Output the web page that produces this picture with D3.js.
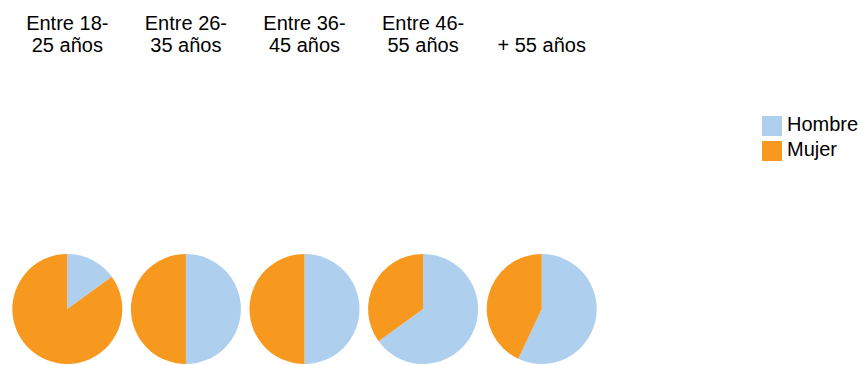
<!DOCTYPE html>
<html>
<head>
<meta charset="utf-8">
<script src="https://cdn.jsdelivr.net/npm/d3@7/dist/d3.min.js"></script>
<style>
  html, body { margin: 0; padding: 0; background: #fff; }
  svg { display: block; font-family: "Liberation Sans", Arial, Helvetica, sans-serif; }
</style>
</head>
<body>
<svg id="chart" width="861" height="365"></svg>
<script>
const categories = ["Entre 18-25 años", "Entre 26-35 años", "Entre 36-45 años", "Entre 46-55 años", "+ 55 años"];
const categoryLines = [["Entre 18-", "25 años"], ["Entre 26-", "35 años"], ["Entre 36-", "45 años"], ["Entre 46-", "55 años"], ["+ 55 años"]];
const seriesNames = ["Hombre", "Mujer"];
const hombre = [15, 50, 50, 65, 57];
const mujer = [85, 50, 50, 35, 43];
const colors = ["#aed0ee", "#f7991f"];

const svg = d3.select("#chart");
const x = d3.scaleBand().domain(categories).range([8, 601]).padding(0);
const color = d3.scaleOrdinal().domain(seriesNames).range(colors);
const radius = 55;
const cy = 309;

const pie = d3.pie().sort(null).value(d => d.value);
const arc = d3.arc().innerRadius(0).outerRadius(radius);

categories.forEach((cat, i) => {
  const cx = x(cat) + x.bandwidth() / 2;
  const data = [{name: "Hombre", value: hombre[i]}, {name: "Mujer", value: mujer[i]}];
  const g = svg.append("g").attr("transform", `translate(${cx},${cy})`);
  g.selectAll("path").data(pie(data)).join("path")
    .attr("d", arc)
    .attr("fill", d => color(d.data.name));

  const lines = categoryLines[i];
  const lastBaseline = 52;
  const lh = 22.5;
  const t = svg.append("text")
    .attr("text-anchor", "middle")
    .attr("font-size", 20)
    .attr("fill", "#000");
  lines.forEach((ln, j) => {
    t.append("tspan")
      .attr("x", cx)
      .attr("y", lastBaseline - (lines.length - 1 - j) * lh)
      .text(ln);
  });
});

// legend
const legend = svg.append("g").attr("transform", "translate(762,116)");
seriesNames.forEach((name, i) => {
  const row = legend.append("g").attr("transform", `translate(0,${i * 25})`);
  row.append("rect").attr("width", 20).attr("height", 20).attr("fill", color(name));
  row.append("text").attr("x", 25).attr("y", 15).attr("font-size", 20).attr("fill", "#000").text(name);
});
</script>
</body>
</html>
